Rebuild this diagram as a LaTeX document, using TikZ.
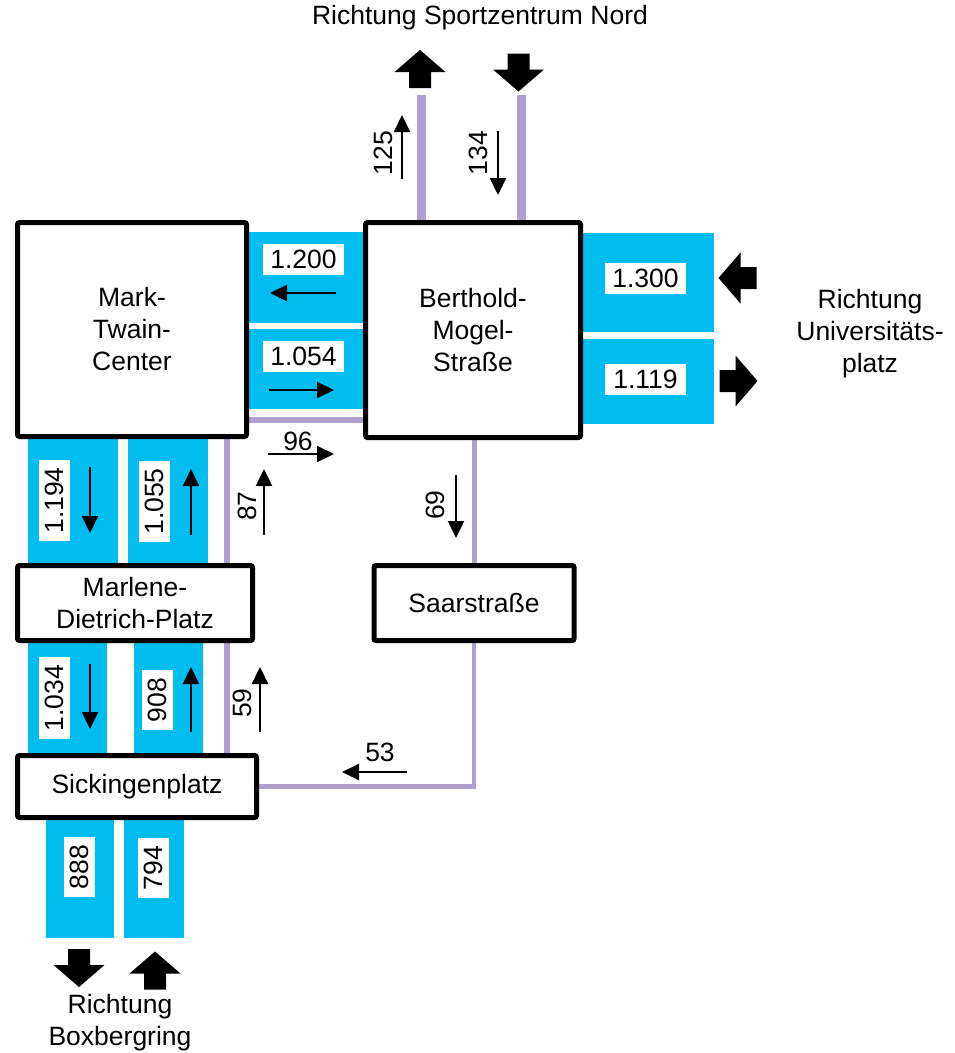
\documentclass[tikz,border=0pt]{standalone}
\usepackage{fontspec}
\setmainfont{Liberation Sans}
\usetikzlibrary{arrows.meta}
\definecolor{lanecol}{RGB}{0,188,239}
\definecolor{roadcol}{RGB}{176,160,206}
\pgfdeclarelayer{lanes}
\pgfdeclarelayer{roads}
\pgfsetlayers{lanes,roads,main}
\tikzset{
  place/.style={draw, line width=5pt, rounded corners=2pt, fill=white, align=center, inner sep=0pt},
  lane/.style={fill=lanecol},
  lbl/.style={fill=white, inner sep=0pt, minimum height=31pt},
  flow/.style={line width=2.3pt, -{Triangle[length=17pt,width=16pt]}},
  road/.style={draw=roadcol},
  barrow/.pic={\fill (0,-19) -- (25.5,3) -- (11,3) -- (11,19) -- (-11,19) -- (-11,3) -- (-25.5,3) -- cycle;}
}
\begin{document}
\begin{tikzpicture}[x=1pt,y=-1pt,font=\fontsize{26.5}{32}\selectfont]
\useasboundingbox (0,0) rectangle (955,1053);
% lanes
\begin{pgfonlayer}{lanes}
\fill[lane] (249,232) rectangle (365,323);
\fill[lane] (249,329) rectangle (365,409);
\fill[lane] (581,233) rectangle (714,332);
\fill[lane] (581,339) rectangle (714,424);
\fill[lane] (28,437) rectangle (118,565);
\fill[lane] (128,437) rectangle (208,565);
\fill[lane] (28,641) rectangle (107,755);
\fill[lane] (134,641) rectangle (203,755);
\fill[lane] (46,818) rectangle (114,938);
\fill[lane] (124,818) rectangle (184,938);
\end{pgfonlayer}
% places
\node[place, minimum width=229pt, minimum height=214pt] (mt) at (132,329.5) {Mark-\\Twain-\\Center};
\node[place, minimum width=215pt, minimum height=215pt] (bm) at (473,330) {Berthold-\\Mogel-\\Straße};
\node[place, minimum width=235pt, minimum height=75pt] (md) at (135,603) {Marlene-\\Dietrich-Platz};
\node[place, minimum width=200pt, minimum height=75pt] (sa) at (474,603) {Saarstraße};
\node[place, minimum width=239pt, minimum height=62pt] (si) at (137,786.5) {Sickingenplatz};
% roads
\coordinate (nup) at (421,95);
\coordinate (ndn) at (521,95);
\coordinate (rl) at (227,420);
\begin{pgfonlayer}{roads}
\draw[road, line width=9pt] (nup) -- (nup |- bm.north);
\draw[road, line width=9pt] (ndn) -- (ndn |- bm.north);
\draw[road, line width=5pt] (bm.south -| sa.north) -- (sa.north);
\draw[road, line width=4.5pt] (sa.south) |- (si.east);
\draw[road, line width=6pt] (si.north -| rl) -- (rl |- mt.south);
\draw[road, line width=6pt] (mt.east |- rl) -- (bm.west |- rl);
\end{pgfonlayer}
% value labels
\node[lbl, minimum width=81pt] (l1200) at (303.5,259.5) {1.200};
\node[lbl, minimum width=81pt] (l1054) at (303.5,356.5) {1.054};
\node[lbl, minimum width=81pt] (l1300) at (645.5,278.5) {1.300};
\node[lbl, minimum width=81pt] (l1119) at (645.5,379.5) {1.119};
\node[lbl, minimum width=81pt, rotate=90] (l1194) at (54.5,500.5) {1.194};
\node[lbl, minimum width=81pt, rotate=90] (l1055) at (154.5,501.5) {1.055};
\node[lbl, minimum width=82pt, rotate=90] (l1034) at (54.5,698) {1.034};
\node[lbl, minimum width=60pt, rotate=90] (l908) at (157.5,700) {908};
\node[lbl, minimum width=60pt, rotate=90] (l888) at (79.5,867) {888};
\node[lbl, minimum width=60pt, rotate=90] (l794) at (153.5,868) {794};
% plain numbers
\node[rotate=90] (t125) at (383,153) {125};
\node[rotate=90] (t134) at (478,153) {134};
\node (t96) at (298,441) {96};
\node[rotate=90] (t87) at (247,506) {87};
\node[rotate=90] (t69) at (435,505) {69};
\node[rotate=90] (t59) at (242,703) {59};
\node (t53) at (380,752) {53};
% thin flow arrows
\coordinate (a1s) at (402,179); \coordinate (a1e) at (402,115);
\coordinate (a2s) at (498,131); \coordinate (a2e) at (498,195);
\coordinate (a3s) at (336,293); \coordinate (a3e) at (270,293);
\coordinate (a4s) at (269,390); \coordinate (a4e) at (334,390);
\coordinate (a5s) at (268,454); \coordinate (a5e) at (334,454);
\coordinate (a6s) at (264,535); \coordinate (a6e) at (264,469);
\coordinate (a7s) at (456,475); \coordinate (a7e) at (456,538);
\coordinate (a8s) at (90,467); \coordinate (a8e) at (90,533);
\coordinate (a9s) at (191,535); \coordinate (a9e) at (191,469);
\coordinate (a10s) at (90,664); \coordinate (a10e) at (90,729);
\coordinate (a11s) at (191,732); \coordinate (a11e) at (191,667);
\coordinate (a12s) at (260,732); \coordinate (a12e) at (260,667);
\coordinate (a13s) at (407,772); \coordinate (a13e) at (342,772);
\foreach \i in {1,...,13} {\draw[flow] (a\i s) -- (a\i e);}
% block arrows
\pic at (420,69) {barrow};
\pic[rotate=180] at (518.5,72.5) {barrow};
\pic[rotate=90] at (737.5,278) {barrow};
\pic[rotate=-90] at (738.5,381) {barrow};
\pic[rotate=180] at (79,968) {barrow};
\pic at (155,970.5) {barrow};
% direction texts
\node (rn) at (480,18) {Richtung Sportzentrum Nord};
\node[align=center] (ru) at (870,334) {Richtung\\Universitäts-\\platz};
\node[align=center] (rb) at (120,1023) {Richtung\\Boxbergring};
\end{tikzpicture}
\end{document}
